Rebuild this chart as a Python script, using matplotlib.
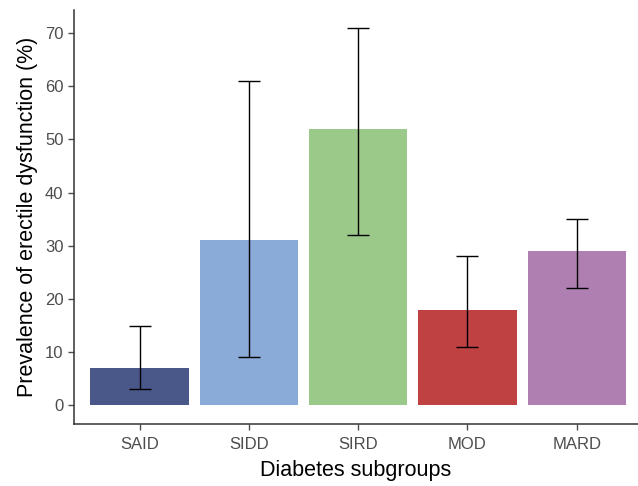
import matplotlib.pyplot as plt
import numpy as np

plt.rcParams['font.family'] = ['Liberation Sans', 'DejaVu Sans']

groups = ["SAID", "SIDD", "SIRD", "MOD", "MARD"]
prevalence = [7, 31, 52, 18, 29]
ci_low = [3, 9, 32, 11, 22]
ci_high = [15, 61, 71, 28, 35]
colors = ["#4a5889", "#8aaad8", "#9ac98a", "#c04141", "#b07fb2"]

fig = plt.figure(figsize=(6.38, 4.86), dpi=100)
ax = fig.add_axes([74 / 638, 1 - 424 / 486, 1 - 74 / 638, (424 - 10) / 486])

x = np.arange(len(groups))
vals = np.array(prevalence)
err = [vals - np.array(ci_low), np.array(ci_high) - vals]
ax.bar(x, vals, width=0.9, color=colors)
ax.errorbar(x, vals, yerr=err, fmt="none", ecolor="black", elinewidth=1,
            capsize=8, capthick=1)

ax.set_xlim(-0.6, 4.56)
ax.set_ylim(-3.5, 74.3)
ax.set_yticks([0, 10, 20, 30, 40, 50, 60, 70])
ax.set_xticks(x)
ax.set_xticklabels(groups)

for s in ["top", "right"]:
    ax.spines[s].set_visible(False)
for s in ["left", "bottom"]:
    ax.spines[s].set_color("#333333")
    ax.spines[s].set_linewidth(1.1)
ax.tick_params(colors="#4d4d4d", labelsize=12, length=4, width=1)
ax.tick_params(axis="x", pad=5)

ax.set_xlabel("Diabetes subgroups", fontsize=15.5, labelpad=6)
ax.set_ylabel("Prevalence of erectile dysfunction (%)", fontsize=15.5, labelpad=5)

fig.savefig("out.png", dpi=100)
